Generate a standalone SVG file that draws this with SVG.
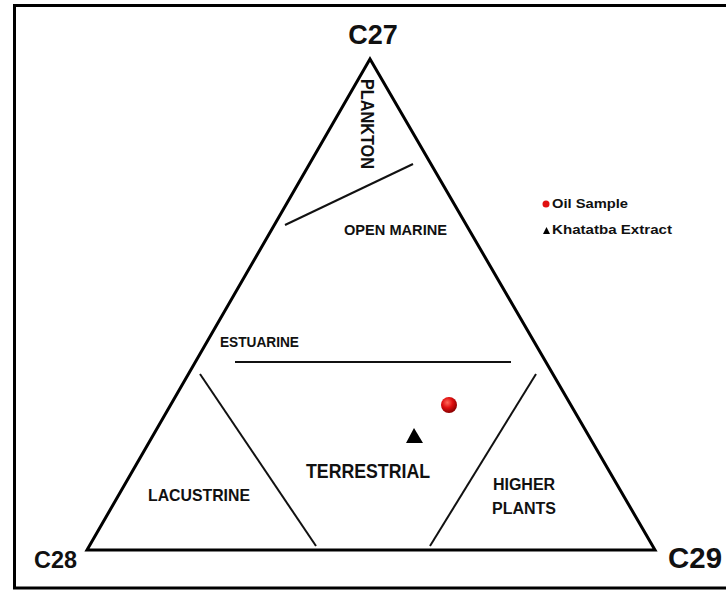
<svg xmlns="http://www.w3.org/2000/svg" width="726" height="590" viewBox="0 0 726 590">
<defs>
<radialGradient id="ball" cx="0.4" cy="0.35" r="0.65">
<stop offset="0" stop-color="#ff6a5a"/>
<stop offset="0.5" stop-color="#e01010"/>
<stop offset="1" stop-color="#8a0000"/>
</radialGradient>
</defs>
<style>
.lbl{font-family:"Liberation Sans",Arial,sans-serif;font-weight:bold;fill:#111}
.ln{stroke:#111;stroke-width:2;fill:none}
.tri{stroke:#000;stroke-width:3;fill:none;stroke-linejoin:miter}
</style>
<rect x="14.5" y="5.5" width="720" height="582.5" fill="#fff" stroke="#000" stroke-width="3"/>
<g id="triangle">
<polygon class="tri" points="370,59 87,550 655,550"/>
</g>
<g id="connectors">
<line class="ln" x1="285" y1="225" x2="413" y2="164"/>
<line class="ln" x1="235" y1="362" x2="511" y2="362"/>
<line class="ln" x1="200" y1="374" x2="316" y2="546"/>
<line class="ln" x1="536" y1="374" x2="430" y2="546"/>
</g>
<g id="c27"><text class="lbl" x="373" y="44" font-size="27" text-anchor="middle">C27</text></g>
<g id="c28"><text class="lbl" x="34" y="568" font-size="23" textLength="43" lengthAdjust="spacingAndGlyphs">C28</text></g>
<g id="c29"><text class="lbl" x="668" y="568" font-size="29" textLength="54" lengthAdjust="spacingAndGlyphs">C29</text></g>
<g id="plankton"><text class="lbl" transform="translate(361,79) rotate(90)" font-size="19" textLength="90" lengthAdjust="spacingAndGlyphs">PLANKTON</text></g>
<g id="open-marine"><text class="lbl" x="344" y="235" font-size="14" textLength="103" lengthAdjust="spacingAndGlyphs">OPEN MARINE</text></g>
<g id="estuarine"><text class="lbl" x="220" y="347" font-size="15" textLength="79" lengthAdjust="spacingAndGlyphs">ESTUARINE</text></g>
<g id="lacustrine"><text class="lbl" x="148" y="501" font-size="17" textLength="102" lengthAdjust="spacingAndGlyphs">LACUSTRINE</text></g>
<g id="terrestrial"><text class="lbl" x="306" y="478" font-size="21" textLength="124" lengthAdjust="spacingAndGlyphs">TERRESTRIAL</text></g>
<g id="higher-plants">
<text class="lbl" x="524" y="490" font-size="16" text-anchor="middle">HIGHER</text>
<text class="lbl" x="524" y="514" font-size="16" text-anchor="middle">PLANTS</text>
</g>
<g id="oil-sample-point"><circle cx="449" cy="405" r="8" fill="url(#ball)"/></g>
<g id="khatatba-point"><polygon points="414,428 406,443 423,443" fill="#000"/></g>
<g id="legend">
<circle cx="546" cy="204" r="3.5" fill="#e01010"/>
<text class="lbl" x="552" y="208" font-size="12.5" textLength="76" lengthAdjust="spacingAndGlyphs">Oil Sample</text>
<polygon points="546.5,227 543,234 550,234" fill="#000"/>
<text class="lbl" x="552" y="234" font-size="13" textLength="120" lengthAdjust="spacingAndGlyphs">Khatatba Extract</text>
</g>
</svg>
